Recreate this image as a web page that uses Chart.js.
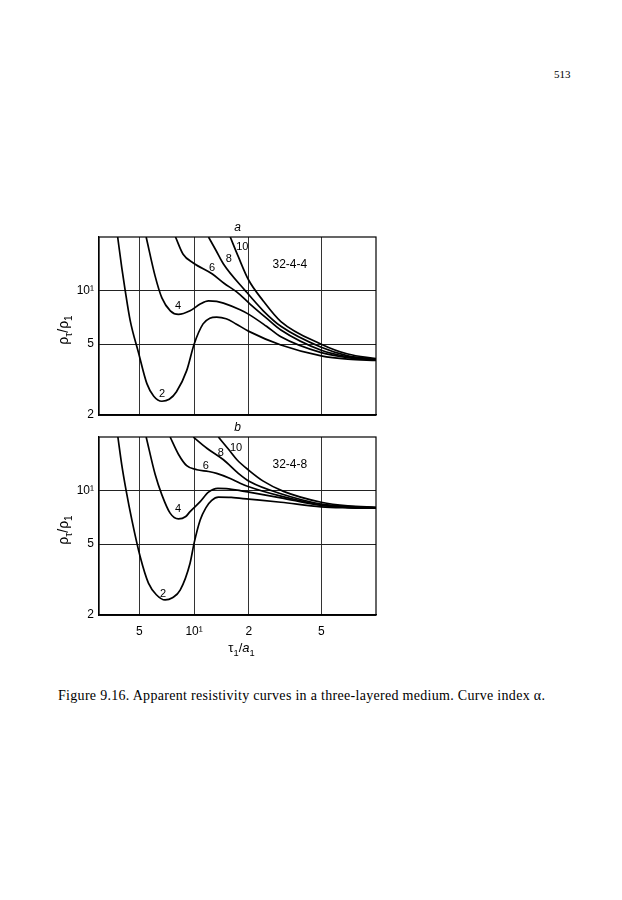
<!DOCTYPE html>
<html>
<head>
<meta charset="utf-8">
<script src="https://cdn.jsdelivr.net/npm/chart.js@4.4.0/dist/chart.umd.min.js"></script>
<style>
  body { margin: 0; background: #fff; width: 622px; height: 900px; position: relative; overflow: hidden; }
  .panel { position: absolute; left: 0; width: 622px; }
  #boxA { top: 220px; height: 210px; }
  #boxB { top: 420px; height: 240px; }
  #pageNo { position: absolute; left: 554px; top: 68px; font: 11px "Liberation Serif", serif; color: #000; }
  #caption { position: absolute; left: 58px; top: 688px; font: 14px "Liberation Serif", serif; letter-spacing: 0.3px; color: #000; white-space: nowrap; }
</style>
</head>
<body>
<div id="pageNo">513</div>
<div class="panel" id="boxA"><canvas id="chartA" width="622" height="210"></canvas></div>
<div class="panel" id="boxB"><canvas id="chartB" width="622" height="240"></canvas></div>
<div id="caption">Figure 9.16. Apparent resistivity curves in a three-layered medium. Curve index α.</div>

<script>
// axis ranges and ticks
const xMin = 3, xMax = 100, yMin = 2, yMax = 20;
const xTicks = [5, 10, 20, 50];
const xTickLabels = ['5', '10¹', '2', '5'];
const yTicks = [2, 5, 10];
const yTickLabels = ['2', '5', '10¹'];
const curveIndex = ['2', '4', '6', '8', '10'];

// panel a: 32-4-4  (tau1/a1, rho_t/rho_1)
const a2 = [[3.8,20],[4.0,13.5],[4.18,10],[4.45,6.8],[4.94,4.5],[5.5,3.0],[6.0,2.55],[6.65,2.39],[7.3,2.45],[8.0,2.7],[9.1,3.55],[10.0,5.0],[11.2,6.5],[12.2,7.0],[13.3,7.1],[15,6.95],[17,6.5],[20,5.9],[30,4.95],[50,4.3],[70,4.12],[100,4.05]];
const a4 = [[5.45,20],[6.1,12.1],[6.65,9.1],[7.4,7.7],[8.2,7.35],[9.5,7.7],[10.8,8.4],[12.0,8.75],[13.3,8.7],[14.5,8.5],[17.9,7.8],[20,7.35],[25,6.3],[30,5.5],[50,4.48],[70,4.2],[100,4.08]];
const a6 = [[7.9,20],[8.7,16],[9.9,14.3],[12.6,12.4],[14.6,11],[17.2,9.8],[20.3,8.4],[25,7.0],[30,6.0],[50,4.62],[70,4.25],[100,4.1]];
const a8 = [[12.0,20],[13.2,16.8],[14.5,14.1],[19.1,10],[24,7.7],[30,6.3],[50,4.8],[70,4.3],[100,4.12]];
const a10 = [[15.8,20],[17.5,15.5],[19.9,11.5],[24,8.75],[30,6.7],[50,5.0],[70,4.4],[100,4.15]];

// panel b: 32-4-8
const b2 = [[3.81,20],[4.0,14],[4.23,10],[4.55,6.83],[5.05,4.26],[5.61,3.02],[6.2,2.6],[6.93,2.43],[7.6,2.5],[8.38,2.76],[9.5,3.91],[10.0,5.07],[10.8,6.83],[11.6,8.0],[12.5,8.8],[13.6,9.18],[16,9.15],[20,8.95],[30,8.6],[50,8.1],[70,8.0],[100,7.96]];
const b4 = [[5.45,20],[6.11,12.3],[6.65,9.46],[7.38,7.47],[8.2,6.93],[9.0,7.15],[9.5,7.62],[10.8,8.67],[12,9.8],[13.5,10.3],[15,10.25],[17.9,10.0],[20,9.8],[30,9.1],[50,8.25],[70,8.05],[100,7.98]];
const b6 = [[7.38,20],[8.2,16.0],[9.1,13.8],[10.35,13.1],[12,12.8],[13.3,12.5],[15.8,11.7],[17.9,11.0],[20,10.5],[30,9.3],[50,8.3],[70,8.1],[100,8.0]];
const b8 = [[9.9,20],[11.75,17.3],[14.5,14.9],[17.5,12.5],[20.3,11.2],[30,9.6],[50,8.4],[70,8.15],[100,8.03]];
const b10 = [[13.6,20],[15.5,17],[17.2,14.9],[20,13.0],[24,11.3],[31,9.9],[50,8.6],[70,8.2],[100,8.05]];

// where the curve numbers sit (data units)
const labelAtA = [[6.67,2.64],[8.17,8.2],[12.56,13.4],[15.5,15.1],[18.4,17.6]];
const labelAtB = [[6.76,2.63],[8.17,7.9],[11.6,13.8],[14.0,16.3],[17.0,17.4]];
const modelA = '32-4-4', modelB = '32-4-8';
const modelAt = [33.6, 14];

const SANS = '"Liberation Sans", Arial, sans-serif';

// write a run of pieces, some of them subscripted
function drawParts(ctx, parts, x, y, size) {
    let w = 0;
    parts.forEach(p => {
        ctx.font = (p.it ? 'italic ' : '') + (p.sub ? size * 0.72 : size) + 'px ' + SANS;
        p.w = ctx.measureText(p.t).width;
        w += p.w;
    });
    let cx = x - w / 2;
    ctx.textAlign = 'left';
    ctx.textBaseline = 'alphabetic';
    parts.forEach(p => {
        ctx.font = (p.it ? 'italic ' : '') + (p.sub ? size * 0.72 : size) + 'px ' + SANS;
        ctx.fillText(p.t, cx, y + (p.sub ? size * 0.3 : 0));
        cx += p.w;
    });
}

const decor = {
    id: 'decor',
    afterDatasetsDraw(chart, args, opts) {
        const ctx = chart.ctx;
        const area = chart.chartArea;
        const xs = chart.scales.x, ys = chart.scales.y;
        ctx.save();
        ctx.strokeStyle = '#000';
        ctx.lineWidth = 1.2;
        ctx.strokeRect(area.left, area.top, area.right - area.left, area.bottom - area.top);

        ctx.fillStyle = '#000';
        ctx.textAlign = 'center';
        ctx.textBaseline = 'middle';
        ctx.font = '11px ' + SANS;
        opts.labelAt.forEach((p, i) => {
            ctx.fillText(curveIndex[i], xs.getPixelForValue(p[0]), ys.getPixelForValue(p[1]));
        });
        ctx.font = '12px ' + SANS;
        ctx.fillText(opts.model, xs.getPixelForValue(modelAt[0]), ys.getPixelForValue(modelAt[1]));

        // panel letter
        ctx.font = 'italic 12px ' + SANS;
        ctx.fillText(opts.tag, (area.left + area.right) / 2, area.top - 9);

        // y title, rotated
        ctx.save();
        ctx.translate(area.left - 35, (area.top + area.bottom) / 2 + 4);
        ctx.rotate(-Math.PI / 2);
        drawParts(ctx, [{t: 'ρ'}, {t: 'τ', sub: true}, {t: '/ρ'}, {t: '1', sub: true}], 0, 4, 14);
        ctx.restore();

        if (opts.showX) {
            drawParts(ctx, [{t: 'τ'}, {t: '1', sub: true}, {t: '/'}, {t: 'a', it: true}, {t: '1', sub: true}],
                (area.left + area.right) / 2 + 4, area.bottom + 37, 13);
        }
        ctx.restore();
    }
};

function makePanel(id, curves, labelAt, tag, model, showX, bottomSpace) {
    const datasets = curves.map((c, i) => ({
        label: curveIndex[i],
        data: c.map(p => ({x: p[0], y: p[1]})),
        borderColor: '#000',
        borderWidth: 1.7,
        pointRadius: 0,
        fill: false,
        cubicInterpolationMode: 'monotone'
    }));
    return new Chart(document.getElementById(id), {
        type: 'line',
        data: {datasets: datasets},
        plugins: [decor],
        options: {
            responsive: false,
            animation: false,
            devicePixelRatio: 1,
            layout: {padding: {left: 0, right: 246, top: 17, bottom: 0}},
            plugins: {
                legend: {display: false},
                tooltip: {enabled: false},
                decor: {labelAt: labelAt, tag: tag, model: model, showX: showX}
            },
            scales: {
                x: {
                    type: 'logarithmic',
                    min: xMin, max: xMax,
                    afterBuildTicks: s => { s.ticks = xTicks.map(v => ({value: v})); },
                    afterFit: s => { s.height = bottomSpace; },
                    grid: {color: '#333', lineWidth: 1, drawTicks: false},
                    border: {display: true, color: '#000', width: 1.2},
                    ticks: {
                        display: showX,
                        color: '#000',
                        font: {family: SANS, size: 12},
                        padding: 9,
                        maxRotation: 0,
                        autoSkip: false,
                        callback: (v, i) => xTickLabels[i]
                    }
                },
                y: {
                    type: 'logarithmic',
                    min: yMin, max: yMax,
                    afterBuildTicks: s => { s.ticks = yTicks.map(v => ({value: v})); },
                    afterFit: s => { s.width = 99; },
                    grid: {color: '#222', lineWidth: 1, drawTicks: false},
                    border: {display: true, color: '#000', width: 1.2},
                    ticks: {
                        color: '#000',
                        font: {family: SANS, size: 12},
                        padding: 5,
                        autoSkip: false,
                        callback: (v, i) => yTickLabels[i]
                    }
                }
            }
        }
    });
}

makePanel('chartA', [a2, a4, a6, a8, a10], labelAtA, 'a', modelA, false, 15);
makePanel('chartB', [b2, b4, b6, b8, b10], labelAtB, 'b', modelB, true, 45);
</script>
</body>
</html>
